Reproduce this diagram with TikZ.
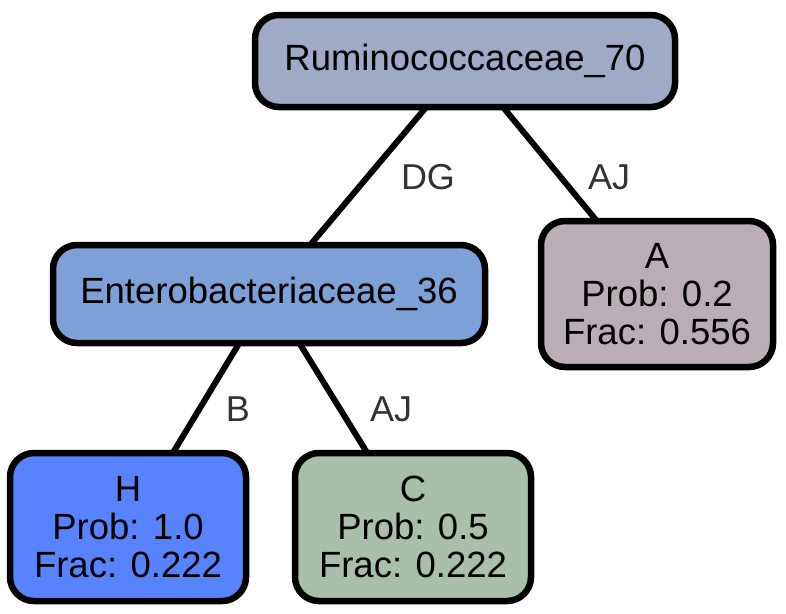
\documentclass[tikz,border=0pt]{standalone}
\usepackage{fontspec}
\setmainfont{Liberation Sans}
\usetikzlibrary{backgrounds}
\begin{document}
\begin{tikzpicture}[x=1pt,y=-1pt,
  box/.style={draw=black,line width=6.5pt,rounded corners=24pt,align=center,inner sep=0pt,font=\fontsize{36.5}{38}\selectfont},
  edge/.style={draw=black,line width=6pt},
  elab/.style={text=black!80,font=\fontsize{36}{38}\selectfont}]
\useasboundingbox (0,0) rectangle (786,613);
\definecolor{cr}{HTML}{A0A9C5}
\definecolor{ce}{HTML}{7DA0D6}
\definecolor{ca}{HTML}{B9ADB6}
\definecolor{ch}{HTML}{5883FF}
\definecolor{cc}{HTML}{AABFAA}
\node[box,fill=cr,minimum width=420pt,minimum height=92pt] (r) at (465,61) {Ruminococcaceae\_70};
\node[box,fill=ce,minimum width=432pt,minimum height=98pt] (e) at (269,294) {Enterobacteriaceae\_36};
\node[box,fill=ca,minimum width=232pt,minimum height=146pt] (a) at (657,294) {A\\Prob: 0.2\\Frac: 0.556};
\node[box,fill=ch,minimum width=236pt,minimum height=148pt] (h) at (128,527) {H\\Prob: 1.0\\Frac: 0.222};
\node[box,fill=cc,minimum width=236pt,minimum height=148pt] (c) at (413,527) {C\\Prob: 0.5\\Frac: 0.222};
\begin{scope}[on background layer]
\draw[edge] (r.center) -- (e.center);
\draw[edge] (r.center) -- (a.center);
\draw[edge] (e.center) -- (h.center);
\draw[edge] (e.center) -- (c.center);
\end{scope}
\node[elab] (l1) at (428,177) {DG};
\node[elab] (l2) at (609,177) {AJ};
\node[elab] (l3) at (238,409) {B};
\node[elab] (l4) at (391,409) {AJ};
\end{tikzpicture}
\end{document}
